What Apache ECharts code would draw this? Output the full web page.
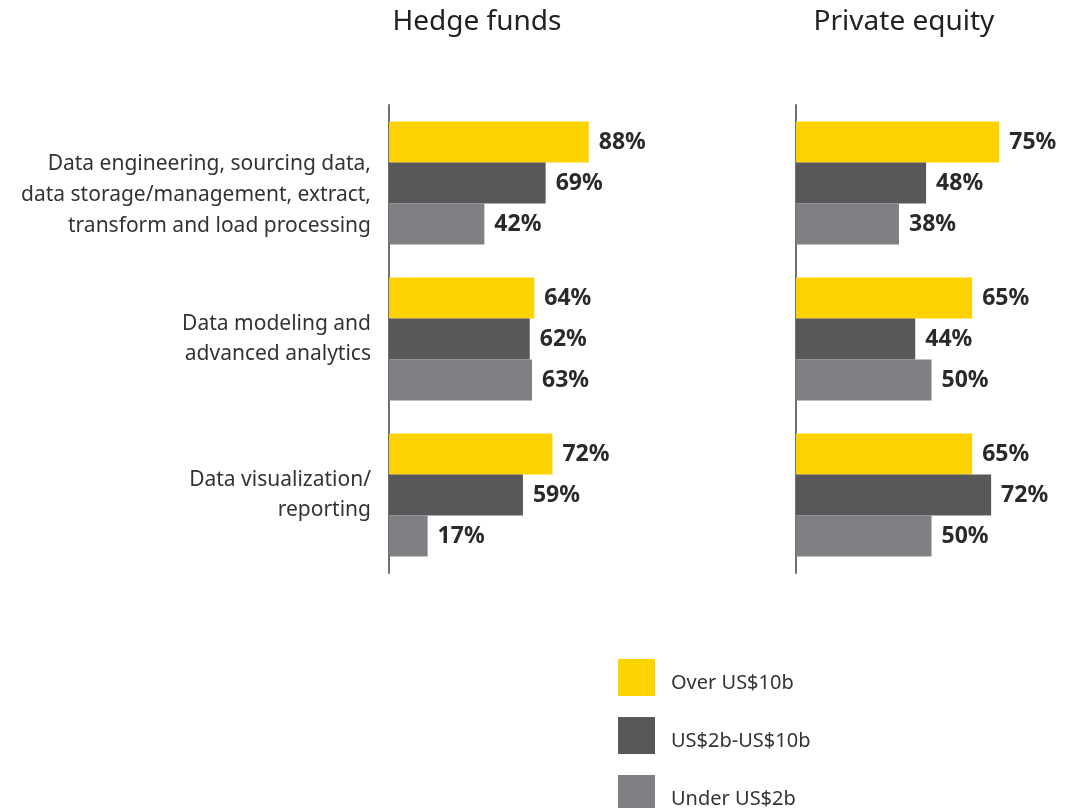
<!DOCTYPE html>
<html>
<head>
<meta charset="utf-8">
<script src="https://cdn.jsdelivr.net/npm/echarts@6/dist/echarts.min.js"></script>
<style>
  html, body { margin: 0; padding: 0; background: #fff; }
  #chart { width: 1067px; height: 808px; }
</style>
</head>
<body>
<div id="chart"></div>
<script>
// data
const categories = [
  'Data engineering, sourcing data,\ndata storage/management, extract,\ntransform and load processing',
  'Data modeling and\nadvanced analytics',
  'Data visualization/\nreporting'
];
const seriesNames = ['Over US$10b', 'US$2b-US$10b', 'Under US$2b'];
const hedgeOver = [88, 64, 72];
const hedgeMid = [69, 62, 59];
const hedgeUnder = [42, 63, 17];
const peOver = [75, 65, 65];
const peMid = [48, 44, 72];
const peUnder = [38, 50, 50];
const colors = ['#FCD200', '#58585A', '#808084'];

const font = '"Noto Sans", sans-serif';
const myChart = echarts.init(document.getElementById('chart'));

function makeBar(name, data, idx, color) {
  return {
    name: name,
    type: 'bar',
    xAxisIndex: idx,
    yAxisIndex: idx,
    barWidth: 41,
    barGap: '0%',
    itemStyle: { color: color },
    label: {
      show: true,
      position: 'right',
      distance: 10,
      formatter: '{c}%',
      fontFamily: font,
      fontWeight: 'bold',
      fontSize: 23,
      color: '#2a2a2a'
    },
    data: data
  };
}

function valueAxis(idx) {
  return {
    type: 'value',
    gridIndex: idx,
    min: 0,
    max: 100,
    show: false
  };
}

function catAxis(idx, showLabel) {
  return {
    type: 'category',
    gridIndex: idx,
    inverse: true,
    data: categories,
    axisTick: { show: false },
    axisLine: { show: true, lineStyle: { color: '#707070', width: 2 } },
    axisLabel: {
      show: showLabel,
      margin: 18,
      fontFamily: font,
      fontSize: 21,
      lineHeight: 30,
      color: '#333',
      // the first (three-line) label sits a little lower than its bars
      formatter: (value, index) => (index === 0 ? '{lo|' + value.split('\n').join('}\n{lo|') + '}' : value),
      rich: {
        lo: { fontFamily: font, fontSize: 21, lineHeight: 31, color: '#333', padding: [24, 0, 0, 0] }
      }
    }
  };
}

const option = {
  animation: false,
  title: [
    {
      text: 'Hedge funds',
      left: 472,
      top: 3,
      textAlign: 'center',
      textStyle: { fontFamily: font, fontSize: 28, fontWeight: 'normal', color: '#222' }
    },
    {
      text: 'Private equity',
      left: 899,
      top: 3,
      textAlign: 'center',
      textStyle: { fontFamily: font, fontSize: 28, fontWeight: 'normal', color: '#222' }
    }
  ],
  legend: {
    data: seriesNames,
    orient: 'vertical',
    left: 618,
    top: 659,
    height: 300,
    padding: 0,
    itemWidth: 37,
    itemHeight: 37,
    itemGap: 21,
    icon: 'rect',
    formatter: '{t|{name}}',
    textStyle: {
      fontFamily: font,
      fontSize: 20,
      color: '#333',
      rich: {
        t: { fontFamily: font, fontSize: 20, color: '#333', padding: [12, 0, 0, 11] }
      }
    }
  },
  grid: [
    { left: 389, top: 105, width: 227, height: 468 },
    { left: 796, top: 105, width: 284, height: 468 }
  ],
  xAxis: [valueAxis(0), valueAxis(1)],
  yAxis: [catAxis(0, true), catAxis(1, false)],
  series: [
    makeBar(seriesNames[0], hedgeOver, 0, colors[0]),
    makeBar(seriesNames[1], hedgeMid, 0, colors[1]),
    makeBar(seriesNames[2], hedgeUnder, 0, colors[2]),
    makeBar(seriesNames[0], peOver, 1, colors[0]),
    makeBar(seriesNames[1], peMid, 1, colors[1]),
    makeBar(seriesNames[2], peUnder, 1, colors[2])
  ]
};
myChart.setOption(option);
</script>
</body>
</html>
